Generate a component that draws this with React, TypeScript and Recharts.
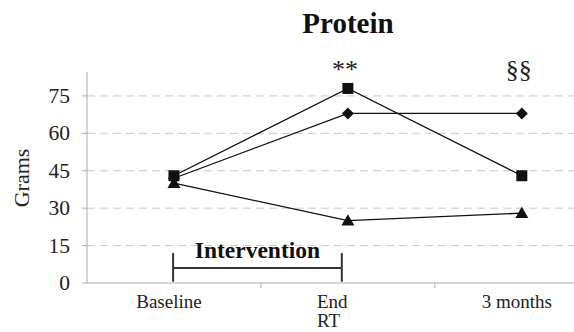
import React from "react";
import {
  LineChart,
  Line,
  XAxis,
  YAxis,
  ReferenceLine,
} from "recharts";

const categories = ["Baseline", "End\nRT", "3 months"];
const categoryPositions = [0.5, 1.5, 2.5];
const squareSeries = [43, 78, 43];
const diamondSeries = [42, 68, 68];
const triangleSeries = [40, 25, 28];
const yTicks = [0, 15, 30, 45, 60, 75];
const gridValues = [15, 30, 45, 60, 75];
const bandTicks = [1, 2];
const annotations = ["", "**", "§§"];

const data = categories.map((c, i) => ({
  x: categoryPositions[i],
  cat: c,
  square: squareSeries[i],
  diamond: diamondSeries[i],
  triangle: triangleSeries[i],
  note: annotations[i],
}));

const FONT = "Liberation Serif, Times New Roman, serif";
const INK = "#111";
const TEXT = "#222";

const SquareDot = (p: any) => {
  const s = 11;
  return <rect x={p.cx - s / 2} y={p.cy - s / 2} width={s} height={s} fill={INK} />;
};
const DiamondDot = (p: any) => {
  const r = 6;
  return (
    <polygon
      points={`${p.cx},${p.cy - r} ${p.cx + r},${p.cy} ${p.cx},${p.cy + r} ${p.cx - r},${p.cy}`}
      fill={INK}
    />
  );
};
const TriangleDot = (p: any) => {
  const r = 6.5;
  return (
    <polygon
      points={`${p.cx},${p.cy - r} ${p.cx + r},${p.cy + r * 0.75} ${p.cx - r},${p.cy + r * 0.75}`}
      fill={INK}
    />
  );
};

const XTick = (p: any) => {
  const v = p.payload.value;
  const { x, y } = p;
  if (bandTicks.includes(v)) {
    return <line x1={x} x2={x} y1={y} y2={y + 5} stroke="#aaa" strokeWidth={1} />;
  }
  const idx = categoryPositions.indexOf(v);
  if (idx < 0) return null;
  const lines = categories[idx].split("\n");
  const multi = lines.length > 1;
  const tx = multi ? x - 31 : x - 5;
  return (
    <text
      x={tx}
      y={y + 25}
      textAnchor={multi ? "start" : "middle"}
      style={{ fontFamily: FONT, fontSize: 19 }}
      fill={TEXT}
    >
      {lines.map((l, i) => (
        <tspan key={i} x={tx} dy={i === 0 ? 0 : 19}>
          {l}
        </tspan>
      ))}
    </text>
  );
};

const YTick = (p: any) => {
  const { x, y, payload } = p;
  return (
    <text x={x} y={y + 7} textAnchor="end" style={{ fontFamily: FONT, fontSize: 21.5 }} fill={TEXT}>
      {payload.value}
    </text>
  );
};

const NoteLabel = (p: any) => {
  const { x, index } = p;
  const t = annotations[index];
  if (!t) return null;
  return (
    <text x={x - 3} y={78} textAnchor="middle" style={{ fontFamily: FONT, fontSize: 26 }} fill={TEXT}>
      {t}
    </text>
  );
};

export default function App() {
  return (
    <div style={{ position: "absolute", left: 0, top: 0, width: 574, height: 332, background: "#fff" }}>
      <LineChart
        width={574}
        height={332}
        data={data}
        margin={{ top: 72, right: 0, left: 0, bottom: 0 }}
      >
        <text
          x={348}
          y={33}
          textAnchor="middle"
          style={{ fontFamily: FONT, fontSize: 29, fontWeight: "bold" }}
          fill="#111"
        >
          Protein
        </text>
        <text
          x={0}
          y={0}
          transform="translate(29,178) rotate(-90)"
          textAnchor="middle"
          style={{ fontFamily: FONT, fontSize: 22 }}
          fill={TEXT}
        >
          Grams
        </text>
        {gridValues.map((g) => (
          <ReferenceLine key={g} y={g} stroke="#c8c8c8" strokeDasharray="8 5" />
        ))}
        <XAxis
          dataKey="x"
          type="number"
          domain={[0, 2.8]}
          ticks={[0.5, 1, 1.5, 2, 2.5]}
          tick={<XTick />}
          tickLine={false}
          tickSize={0}
          tickMargin={0}
          height={49}
          axisLine={{ stroke: "#aaa" }}
          interval={0}
        />
        <YAxis
          type="number"
          domain={[0, 84.6]}
          ticks={yTicks}
          width={87}
          tickSize={5}
          tickLine={{ stroke: "#aaa" }}
          tickMargin={12}
          axisLine={{ stroke: "#aaa" }}
          tick={<YTick />}
          interval={0}
        />
        <ReferenceLine
          segment={[{ x: 0.495, y: 6 }, { x: 1.465, y: 6 }]}
          stroke="#333"
          strokeWidth={2}
        />
        <ReferenceLine
          segment={[{ x: 0.495, y: 12 }, { x: 0.495, y: 0.5 }]}
          stroke="#333"
          strokeWidth={2}
        />
        <ReferenceLine
          segment={[{ x: 1.465, y: 12 }, { x: 1.465, y: 0.5 }]}
          stroke="#333"
          strokeWidth={2}
        />
        <ReferenceLine
          segment={[{ x: 0.98, y: 8 }, { x: 0.98, y: 8 }]}
          stroke="none"
          label={{
            value: "Intervention",
            position: "top",
            style: { fontFamily: FONT, fontSize: 23.5, fontWeight: "bold", fill: "#111" },
          }}
        />
        <Line
          dataKey="triangle"
          stroke={INK}
          strokeWidth={1.3}
          dot={<TriangleDot />}
          isAnimationActive={false}
        />
        <Line
          dataKey="diamond"
          stroke={INK}
          strokeWidth={1.3}
          dot={<DiamondDot />}
          isAnimationActive={false}
        />
        <Line
          dataKey="square"
          stroke={INK}
          strokeWidth={1.3}
          dot={<SquareDot />}
          isAnimationActive={false}
          label={<NoteLabel />}
        />
      </LineChart>
    </div>
  );
}
